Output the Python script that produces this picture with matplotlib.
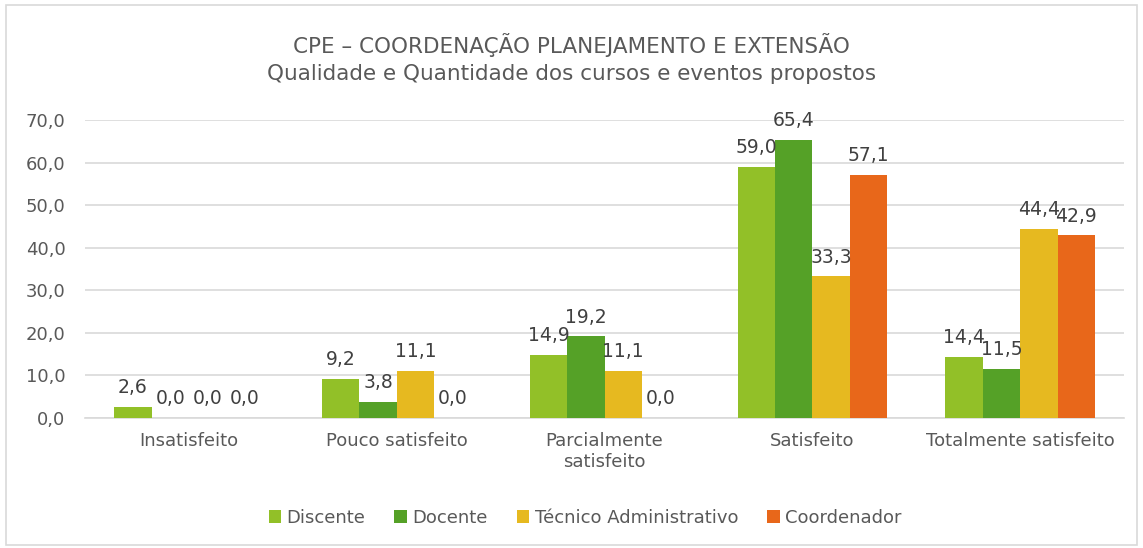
import matplotlib
matplotlib.use("Agg")
import matplotlib.pyplot as plt
import numpy as np
from matplotlib.patches import Rectangle

plt.rcParams['font.family'] = ['DejaVu Sans']

# dados
categorias = ["Insatisfeito", "Pouco satisfeito", "Parcialmente\nsatisfeito",
              "Satisfeito", "Totalmente satisfeito"]
discente = [2.6, 9.2, 14.9, 59.0, 14.4]
docente = [0.0, 3.8, 19.2, 65.4, 11.5]
tecnico = [0.0, 11.1, 11.1, 33.3, 44.4]
coordenador = [0.0, 0.0, 0.0, 57.1, 42.9]
series_nomes = ["Discente", "Docente", "Técnico Administrativo", "Coordenador"]
cores = ["#92C028", "#55A127", "#E6B920", "#E8671A"]

series = [discente, docente, tecnico, coordenador]

fig = plt.figure(figsize=(11.43, 5.48), dpi=100)
ax = fig.add_axes([0.0744, 0.2372, 0.909, 0.5438])

x = np.arange(len(categorias))
w = 0.18
for i, (vals, nome, cor) in enumerate(zip(series, series_nomes, cores)):
    pos = x + (i - 1.5) * w
    ax.bar(pos, vals, width=w, color=cor, label=nome, zorder=3)
    for p, v in zip(pos, vals):
        ax.annotate(("%.1f" % v).replace(".", ","), (p, v), xytext=(0, 7),
                    textcoords="offset points", ha="center", va="bottom",
                    fontsize=13.5, color="#404040", zorder=4)

ax.set_xlim(-0.5, len(categorias) - 0.5)
ax.set_ylim(0, 70)
ax.set_yticks(np.arange(0, 71, 10))
ax.set_yticklabels([("%.1f" % t).replace(".", ",") for t in np.arange(0, 71, 10)])
ax.set_xticks(x)
ax.set_xticklabels(categorias)
ax.tick_params(axis="both", length=0, labelsize=13, labelcolor="#595959")
ax.tick_params(axis="x", pad=10)
ax.tick_params(axis="y", pad=14)
ax.yaxis.grid(True, color="#D9D9D9", linewidth=1.2, zorder=0)
for s in ["left", "right", "top"]:
    ax.spines[s].set_visible(False)
ax.spines["bottom"].set_color("#D9D9D9")
ax.spines["bottom"].set_linewidth(1.2)

fig.text(0.5, 0.893, "CPE – COORDENAÇÃO PLANEJAMENTO E EXTENSÃO\nQualidade e Quantidade dos cursos e eventos propostos",
         ha="center", va="center", fontsize=15.5, color="#595959", linespacing=1.4)

fig.legend(loc="center", bbox_to_anchor=(0.512, 0.055), ncol=4, frameon=False,
           fontsize=13, handlelength=0.7, handleheight=0.7, handletextpad=0.3,
           columnspacing=1.6, labelcolor="#595959")

fig.patches.append(Rectangle((0.005, 0.005), 0.99, 0.985, transform=fig.transFigure,
                             fill=False, edgecolor="#D9D9D9", linewidth=1.2))

fig.savefig("out.png", dpi=100, facecolor="white")
